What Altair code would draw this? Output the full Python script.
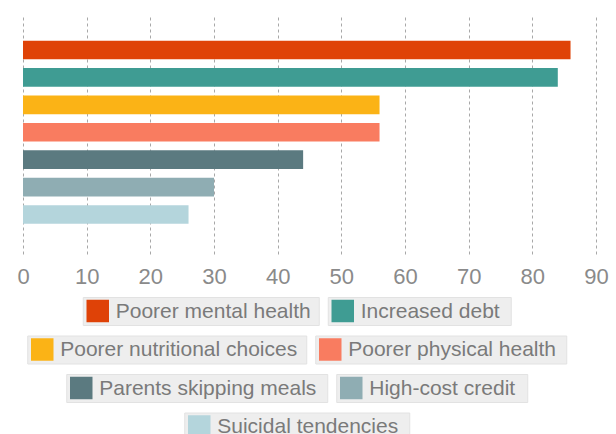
import altair as alt
import pandas as pd

categories = [
    "Poorer mental health",
    "Increased debt",
    "Poorer nutritional choices",
    "Poorer physical health",
    "Parents skipping meals",
    "High-cost credit",
    "Suicidal tendencies",
]
values = [86, 84, 56, 56, 44, 30, 26]
colors = ["#df4207", "#3f9c93", "#fbb316", "#f97c60", "#5b7a80", "#8fadb3", "#b4d5dc"]
tick_values = [0, 10, 20, 30, 40, 50, 60, 70, 80, 90]

# legend layout (rows of category indices) and legend box widths (style)
legend_rows = [[0, 1], [2, 3], [4, 5], [6]]
legend_box_widths = [236, 183, 279, 251, 261, 191, 225]

df = pd.DataFrame({"cat": categories, "value": values})

FONT = "Liberation Sans"
color_scale = alt.Scale(domain=categories, range=colors)

main = (
    alt.Chart(df)
    .mark_bar()
    .encode(
        x=alt.X(
            "value:Q",
            scale=alt.Scale(domain=[0, 90], nice=False),
            axis=alt.Axis(
                values=tick_values,
                title=None,
                grid=True,
                gridDash=[3, 3],
                gridColor="#a8a8a8",
                gridWidth=1,
                domain=False,
                ticks=False,
                labelFlush=False,
                labelFontSize=22,
                labelColor="#8a8a8a",
                labelFont=FONT,
                labelPadding=12,
            ),
        ),
        y=alt.Y(
            "cat:N",
            sort=categories,
            axis=None,
            scale=alt.Scale(paddingInner=0.32, paddingOuter=1.0, align=0.45),
        ),
        color=alt.Color("cat:N", scale=color_scale, legend=None),
    )
    .properties(width=573, height=238)
)


def legend_item(i):
    name = categories[i]
    base = alt.Chart(df).transform_filter(alt.datum.cat == name)
    sq = base.mark_square(size=506, opacity=1).encode(
        x=alt.value(15),
        y=alt.value(14),
        color=alt.Color("cat:N", scale=color_scale, legend=None),
    )
    tx = base.mark_text(
        align="left", baseline="middle", fontSize=21, font=FONT, color="#7a7a7a"
    ).encode(x=alt.value(33), y=alt.value(14.5), text="cat:N")
    return alt.layer(sq, tx).properties(
        width=legend_box_widths[i],
        height=28,
        view=alt.ViewBackground(fill="#eeeeee", stroke="#e2e2e2"),
    )


rows = [alt.hconcat(*[legend_item(i) for i in r], spacing=7) for r in legend_rows]
legend_block = alt.vconcat(*rows, spacing=8.5, center=True)

spacer = (
    alt.Chart(df.head(1))
    .mark_text(text="")
    .encode(x=alt.value(0))
    .properties(width=2, height=1)
)

legend_wrap = alt.hconcat(spacer, legend_block, spacing=0)

chart = (
    alt.vconcat(main, legend_wrap, spacing=3)
    .properties(
        padding={"left": 16, "top": 15, "right": 0, "bottom": 0},
        background="white",
    )
    .configure_view(stroke="transparent")
)

chart.save("out.html", embed_options={"renderer": "svg", "actions": False})
